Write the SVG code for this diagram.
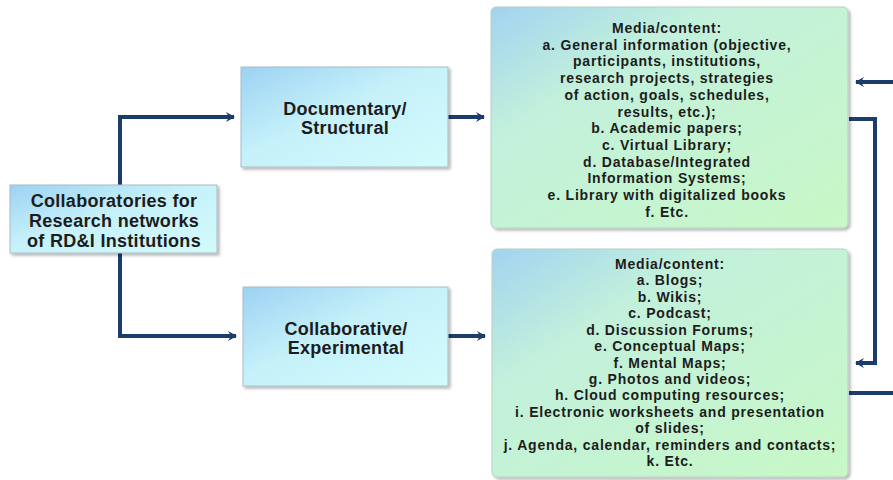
<svg xmlns="http://www.w3.org/2000/svg" width="893" height="480" viewBox="0 0 893 480">
<defs>
<linearGradient id="gb" x1="0" y1="0" x2="1" y2="1">
<stop offset="0" stop-color="#9cd2f2"/>
<stop offset="0.45" stop-color="#c6f1fa"/>
<stop offset="1" stop-color="#d2fbfb"/>
</linearGradient>
<linearGradient id="gg" x1="0" y1="0" x2="1" y2="1">
<stop offset="0" stop-color="#a2d3f0"/>
<stop offset="0.3" stop-color="#c2f0dc"/>
<stop offset="1" stop-color="#c8f8c6"/>
</linearGradient>
<filter id="sh" x="-5%" y="-5%" width="115%" height="115%">
<feDropShadow dx="2" dy="2" stdDeviation="1.5" flood-color="#000" flood-opacity="0.3"/>
</filter>
<marker id="ah" markerWidth="10" markerHeight="10" refX="8" refY="5" orient="auto" markerUnits="userSpaceOnUse">
<path d="M0,0 L9,5 L0,10 L3,5 Z" fill="#1c3d6b"/>
</marker>
</defs>
<style>
.bx{fill:url(#gb);stroke:#a9bcc4;stroke-width:1;filter:url(#sh)}
.gx{fill:url(#gg);stroke:#b9cfc0;stroke-width:1;filter:url(#sh)}
.t{font-family:"Liberation Sans",Arial,sans-serif;font-weight:bold;fill:#1c1c1c;text-anchor:middle}
.big{font-size:18px;letter-spacing:0.3px}
.sm{font-size:14px;letter-spacing:0.8px}
.c{fill:none;stroke:#1c3d6b;stroke-width:4}
</style>
<rect width="893" height="480" fill="#fff"/>
<g id="connectors">
<path class="c" d="M120,185 V117 H234" marker-end="url(#ah)"/>
<path class="c" d="M120,253 V336 H236" marker-end="url(#ah)"/>
<path class="c" d="M448,117 H484" marker-end="url(#ah)"/>
<path class="c" d="M448,336 H485" marker-end="url(#ah)"/>
<path class="c" d="M893,82 H856" marker-end="url(#ah)"/>
<path class="c" d="M849,119 H875 V363 H856" marker-end="url(#ah)"/>
<path class="c" d="M849,393 H893"/>
</g>
<g id="root">
<rect class="bx" x="10" y="185" width="207" height="68"/>
<text class="t big" x="114" y="207">Collaboratories for</text>
<text class="t big" x="114" y="227">Research networks</text>
<text class="t big" x="114" y="247">of RD&amp;I Institutions</text>
</g>
<g id="documentary">
<rect class="bx" x="241" y="67" width="207" height="100"/>
<text class="t big" x="345" y="115">Documentary/</text>
<text class="t big" x="345" y="134">Structural</text>
</g>
<g id="collaborative">
<rect class="bx" x="243" y="287" width="205" height="99"/>
<text class="t big" x="346" y="335">Collaborative/</text>
<text class="t big" x="346" y="354">Experimental</text>
</g>
<g id="media1">
<rect class="gx" x="491" y="7" width="357" height="221" rx="5"/>
<text class="t sm" x="667" y="33">Media/content:</text>
<text class="t sm" x="667" y="49.7">a. General information (objective,</text>
<text class="t sm" x="667" y="66.4">participants, institutions,</text>
<text class="t sm" x="667" y="83.1">research projects, strategies</text>
<text class="t sm" x="667" y="99.8">of action, goals, schedules,</text>
<text class="t sm" x="667" y="116.5">results, etc.);</text>
<text class="t sm" x="667" y="133.2">b. Academic papers;</text>
<text class="t sm" x="667" y="149.9">c. Virtual Library;</text>
<text class="t sm" x="667" y="166.6">d. Database/Integrated</text>
<text class="t sm" x="667" y="183.3">Information Systems;</text>
<text class="t sm" x="667" y="200">e. Library with digitalized books</text>
<text class="t sm" x="667" y="216.7">f.  Etc.</text>
</g>
<g id="media2">
<rect class="gx" x="492" y="249" width="356" height="228" rx="5"/>
<text class="t sm" x="670" y="269">Media/content:</text>
<text class="t sm" x="670" y="285.4">a. Blogs;</text>
<text class="t sm" x="670" y="301.8">b. Wikis;</text>
<text class="t sm" x="670" y="318.3">c. Podcast;</text>
<text class="t sm" x="670" y="334.7">d. Discussion Forums;</text>
<text class="t sm" x="670" y="351.1">e. Conceptual Maps;</text>
<text class="t sm" x="670" y="367.5">f. Mental Maps;</text>
<text class="t sm" x="670" y="383.9">g. Photos and videos;</text>
<text class="t sm" x="670" y="400.4">h. Cloud computing resources;</text>
<text class="t sm" x="670" y="416.8">i. Electronic worksheets and presentation</text>
<text class="t sm" x="670" y="433.2">of slides;</text>
<text class="t sm" x="670" y="449.6">j. Agenda, calendar, reminders and contacts;</text>
<text class="t sm" x="670" y="466">k. Etc.</text>
</g>
</svg>
